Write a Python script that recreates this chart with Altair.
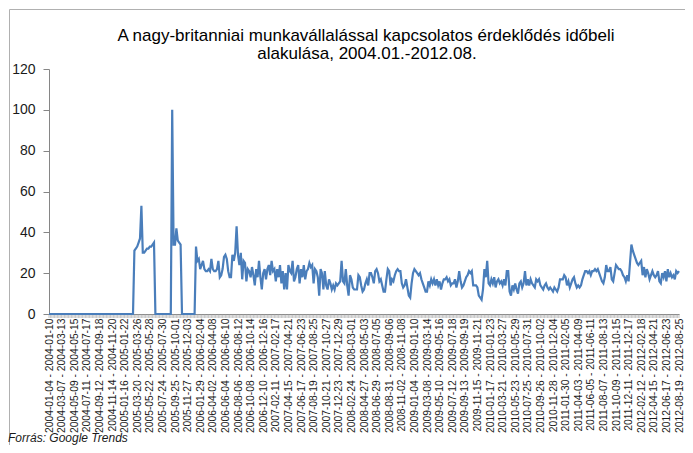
import altair as alt
import pandas as pd

TITLE = ["A nagy-britanniai munkavállalással kapcsolatos érdeklődés időbeli",
         "alakulása, 2004.01.-2012.08."]
SOURCE = "Forrás: Google Trends"
FIRST_WEEK = "2004-01-04"

# weekly search interest, one row = 10 weeks
interest = [
    0, 0, 0, 0, 0, 0, 0, 0, 0, 0,
    0, 0, 0, 0, 0, 0, 0, 0, 0, 0,
    0, 0, 0, 0, 0, 0, 0, 0, 0, 0,
    0, 0, 0, 0, 0, 0, 0, 0, 0, 0,
    0, 0, 0, 0, 0, 0, 0, 0, 0, 0,
    0, 0, 0, 0, 0, 0, 0, 0, 0, 0,
    0, 31, 32, 33, 35, 37, 53, 30, 30, 31,
    32, 32, 33, 33, 34, 35, 0, 0, 0, 0,
    0, 0, 0, 0, 0, 0, 0, 0, 100, 34,
    34, 42, 36, 35, 34, 0, 0, 0, 0, 0,
    0, 0, 0, 0, 0, 33, 26, 27, 22, 24,
    26, 22, 21, 21, 22, 21, 27, 22, 21, 21,
    22, 26, 18, 19, 22, 28, 29, 27, 21, 18,
    18, 29, 26, 30, 43, 29, 24, 30, 17, 26,
    25, 16, 22, 21, 18, 23, 19, 14, 22, 18,
    26, 18, 12, 20, 22, 17, 22, 24, 19, 26,
    21, 22, 16, 22, 18, 24, 15, 21, 12, 20,
    12, 24, 21, 20, 26, 16, 18, 22, 24, 15,
    22, 18, 24, 17, 21, 22, 25, 23, 24, 15,
    22, 21, 18, 9, 22, 20, 12, 21, 14, 12,
    17, 15, 12, 14, 12, 15, 14, 15, 16, 26,
    16, 15, 22, 14, 9, 19, 17, 13, 12, 12,
    12, 19, 18, 14, 11, 12, 15, 17, 14, 20,
    20, 18, 15, 21, 22, 20, 16, 17, 14, 11,
    11, 17, 22, 21, 14, 17, 16, 19, 21, 22,
    21, 21, 15, 13, 14, 17, 13, 9, 8, 15,
    20, 22, 21, 20, 19, 20, 17, 15, 13, 11,
    11, 16, 14, 17, 15, 17, 14, 17, 14, 16,
    12, 15, 17, 17, 18, 16, 17, 14, 15, 15,
    17, 13, 16, 21, 16, 13, 14, 16, 18, 19,
    21, 20, 21, 14, 14, 14, 13, 9, 8, 7,
    12, 22, 18, 26, 15, 14, 17, 15, 18, 13,
    16, 17, 15, 16, 14, 17, 14, 21, 21, 11,
    9, 14, 12, 15, 12, 10, 15, 16, 13, 15,
    21, 14, 17, 14, 17, 15, 14, 13, 17, 16,
    17, 14, 13, 12, 14, 15, 13, 12, 13, 12,
    11, 13, 12, 11, 13, 17, 17, 17, 19, 18,
    14, 16, 13, 15, 17, 18, 15, 13, 14, 13,
    14, 17, 19, 21, 21, 20, 21, 19, 21, 21,
    22, 21, 22, 20, 18, 16, 15, 18, 24, 21,
    21, 23, 17, 16, 20, 24, 23, 22, 22, 21,
    19, 18, 16, 19, 16, 25, 34, 31, 29, 27,
    25, 24, 25, 26, 19, 23, 18, 22, 20, 17,
    19, 21, 19, 18, 19, 21, 16, 15, 20, 18,
    21, 16, 22, 18, 20, 18, 19, 17, 21, 20, 21,
]

tick_starts = [
    "2004-01-04", "2004-03-07", "2004-05-09", "2004-07-11", "2004-09-12", "2004-11-14",
    "2005-01-16", "2005-03-20", "2005-05-22", "2005-07-24", "2005-09-25", "2005-11-27",
    "2006-01-29", "2006-04-02", "2006-06-04", "2006-08-06", "2006-10-08", "2006-12-10",
    "2007-02-11", "2007-04-15", "2007-06-17", "2007-08-19", "2007-10-21", "2007-12-23",
    "2008-02-24", "2008-04-27", "2008-06-29", "2008-08-31", "2008-11-02",
    "2009-01-04", "2009-03-08", "2009-05-10", "2009-07-12", "2009-09-13", "2009-11-15",
    "2010-01-17", "2010-03-21", "2010-05-23", "2010-07-25", "2010-09-26", "2010-11-28",
    "2011-01-30", "2011-04-03", "2011-06-05", "2011-08-07", "2011-10-09", "2011-12-11",
    "2012-02-12", "2012-04-15", "2012-06-17", "2012-08-19",
]
y_ticks = [0, 20, 40, 60, 80, 100, 120]


def week_label(start):
    s = pd.Timestamp(start)
    return f"{s:%Y-%m-%d} - {(s + pd.Timedelta(days=6)):%Y-%m-%d}"


weeks = [week_label(pd.Timestamp(FIRST_WEEK) + pd.Timedelta(days=7 * i)) for i in range(len(interest))]
tick_labels = [week_label(s) for s in tick_starts]

df = pd.DataFrame({"week": weeks, "value": interest})
one = pd.DataFrame({"a": [0]})

FONT = "Liberation Sans"
W, H = 630, 245

x_enc = alt.X(
    "week:O", sort=None,
    scale=alt.Scale(type="point", padding=0),
    axis=alt.Axis(values=tick_labels, labelAngle=270, title=None, ticks=False, tickSize=0,
                  labelPadding=4, labelFont=FONT, labelFontSize=10.3, labelColor="#1a1a1a",
                  domainColor="#868686", labelOverlap=False),
)
y_enc = alt.Y(
    "value:Q",
    scale=alt.Scale(domain=[0, 120], nice=False),
    axis=alt.Axis(values=y_ticks, title=None, grid=False, tickSize=6, labelPadding=8,
                  tickColor="#868686", domainColor="#868686", labelFont=FONT,
                  labelFontSize=14, labelColor="#1a1a1a"),
)

line = alt.Chart(df).mark_line(color="#4A7EBB", strokeWidth=2.2).encode(x=x_enc, y=y_enc)

week_ticks = alt.Chart(df).mark_rule(color="#9a9a9a", strokeWidth=0.6).encode(
    x=alt.X("week:O", sort=None), y=alt.value(H), y2=alt.value(H + 4)
)

frame_left = alt.Chart(one).mark_rule(color="#b0b0b0", strokeWidth=1).encode(
    x=alt.value(-39.5), y=alt.value(-59.5), y2=alt.value(380)
)
frame_top = alt.Chart(one).mark_rule(color="#b0b0b0", strokeWidth=1).encode(
    x=alt.value(-39.5), x2=alt.value(W + 6), y=alt.value(-59.5)
)

title1 = alt.Chart(one).mark_text(
    align="center", baseline="middle", font=FONT, fontSize=17, color="#000000"
).encode(x=alt.value(317), y=alt.value(-33), text=alt.value(TITLE[0]))
title2 = alt.Chart(one).mark_text(
    align="center", baseline="middle", font=FONT, fontSize=17, color="#000000"
).encode(x=alt.value(318), y=alt.value(-15), text=alt.value(TITLE[1]))

source = alt.Chart(one).mark_text(
    align="left", baseline="alphabetic", fontStyle="italic", font=FONT, fontSize=12, color="#1a1a1a"
).encode(x=alt.value(-41), y=alt.value(373), text=alt.value(SOURCE))

chart = alt.layer(frame_left, frame_top, week_ticks, line, title1, title2, source).properties(
    width=W, height=H,
    autosize=alt.AutoSizeParams(type="none"),
    padding={"left": 41, "top": 61, "right": 6, "bottom": 131},
).configure_view(stroke=None)

chart.save("out.html", embed_options={"renderer": "svg", "actions": False})
